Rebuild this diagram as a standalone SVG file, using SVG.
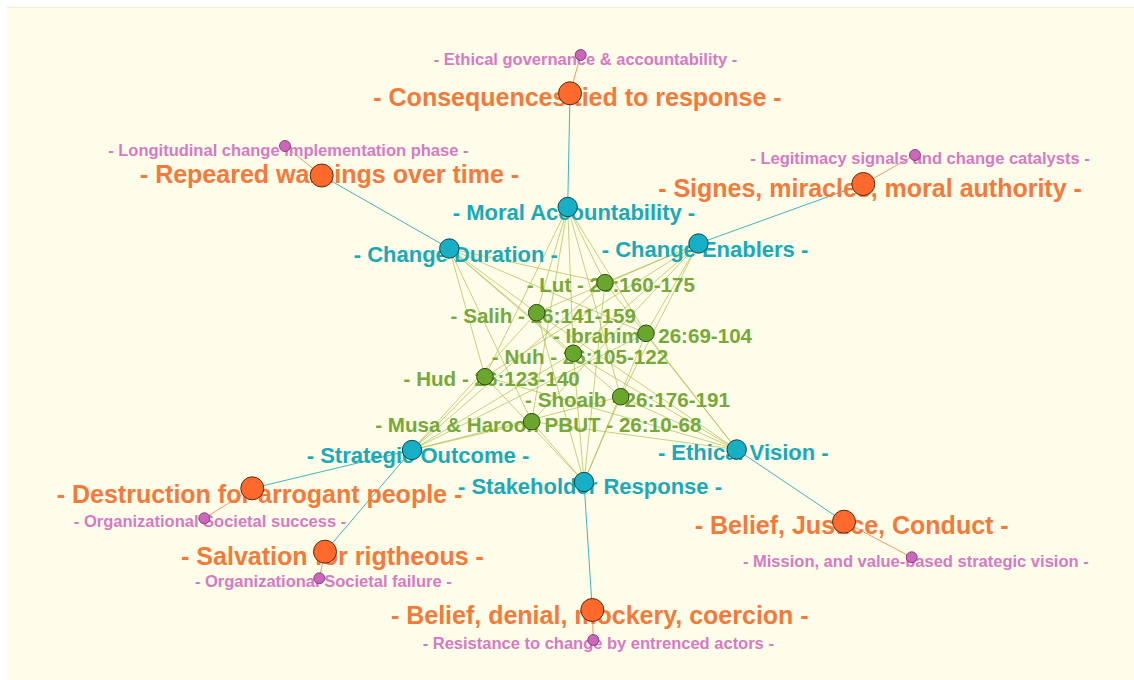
<svg xmlns="http://www.w3.org/2000/svg" width="1134" height="680" viewBox="0 0 1134 680">
<style>
text{font-family:"Liberation Sans",Arial,sans-serif;font-weight:bold;text-anchor:middle}
.tp{font-size:16.5px;fill:#d67ac6}
.to{font-size:25px;fill:#f47a3b}
.tc{font-size:22px;fill:#1ba9b8}
.tg{font-size:20.6px;fill:#77a83a}
.np{fill:#cc66bb;stroke:#6a3060;stroke-width:0.8}
.no{fill:#ff6a2c;stroke:#5a2a10;stroke-width:1}
.nc{fill:#16afc6;stroke:#0d4650;stroke-width:1}
.ng{fill:#6aa52e;stroke:#2d4a12;stroke-width:1}
.eg{stroke:#a9bb4c;stroke-width:0.9;stroke-opacity:0.75;fill:none}
.ec{stroke:#45b2bf;stroke-width:1;fill:none}
.eo{stroke:#f2986a;stroke-width:1;fill:none}
</style>
<rect x="0" y="0" width="1134" height="680" fill="#ffffff"/>
<rect x="7" y="7" width="1127" height="673" fill="#fefde9"/>
<line x1="7" y1="7.5" x2="1134" y2="7.5" stroke="#f3ead8" stroke-width="1"/>
<g id="connectors">
<g class="eg">
<line x1="605" y1="282.7" x2="567.7" y2="207"/><line x1="605" y1="282.7" x2="449.3" y2="248.5"/><line x1="605" y1="282.7" x2="698.5" y2="243.5"/><line x1="605" y1="282.7" x2="412" y2="450"/><line x1="605" y1="282.7" x2="736.7" y2="449.5"/><line x1="605" y1="282.7" x2="584" y2="482"/>
<line x1="536.7" y1="312.7" x2="567.7" y2="207"/><line x1="536.7" y1="312.7" x2="449.3" y2="248.5"/><line x1="536.7" y1="312.7" x2="698.5" y2="243.5"/><line x1="536.7" y1="312.7" x2="412" y2="450"/><line x1="536.7" y1="312.7" x2="736.7" y2="449.5"/><line x1="536.7" y1="312.7" x2="584" y2="482"/>
<line x1="646" y1="333.3" x2="567.7" y2="207"/><line x1="646" y1="333.3" x2="449.3" y2="248.5"/><line x1="646" y1="333.3" x2="698.5" y2="243.5"/><line x1="646" y1="333.3" x2="412" y2="450"/><line x1="646" y1="333.3" x2="736.7" y2="449.5"/><line x1="646" y1="333.3" x2="584" y2="482"/>
<line x1="573.3" y1="353.3" x2="567.7" y2="207"/><line x1="573.3" y1="353.3" x2="449.3" y2="248.5"/><line x1="573.3" y1="353.3" x2="698.5" y2="243.5"/><line x1="573.3" y1="353.3" x2="412" y2="450"/><line x1="573.3" y1="353.3" x2="736.7" y2="449.5"/><line x1="573.3" y1="353.3" x2="584" y2="482"/>
<line x1="485" y1="376.7" x2="567.7" y2="207"/><line x1="485" y1="376.7" x2="449.3" y2="248.5"/><line x1="485" y1="376.7" x2="698.5" y2="243.5"/><line x1="485" y1="376.7" x2="412" y2="450"/><line x1="485" y1="376.7" x2="736.7" y2="449.5"/><line x1="485" y1="376.7" x2="584" y2="482"/>
<line x1="620.7" y1="396.7" x2="567.7" y2="207"/><line x1="620.7" y1="396.7" x2="449.3" y2="248.5"/><line x1="620.7" y1="396.7" x2="698.5" y2="243.5"/><line x1="620.7" y1="396.7" x2="412" y2="450"/><line x1="620.7" y1="396.7" x2="736.7" y2="449.5"/><line x1="620.7" y1="396.7" x2="584" y2="482"/>
<line x1="531.7" y1="421.7" x2="567.7" y2="207"/><line x1="531.7" y1="421.7" x2="449.3" y2="248.5"/><line x1="531.7" y1="421.7" x2="698.5" y2="243.5"/><line x1="531.7" y1="421.7" x2="412" y2="450"/><line x1="531.7" y1="421.7" x2="736.7" y2="449.5"/><line x1="531.7" y1="421.7" x2="584" y2="482"/>
</g>
<g class="ec">
<line x1="567.7" y1="207" x2="570" y2="93.3"/>
<line x1="449.3" y1="248.5" x2="321.7" y2="175.5"/>
<line x1="698.5" y1="243.5" x2="863.3" y2="184"/>
<line x1="412" y1="450" x2="252.3" y2="488.3"/>
<line x1="412" y1="450" x2="325" y2="551.7"/>
<line x1="736.7" y1="449.5" x2="844" y2="521.7"/>
<line x1="584" y1="482" x2="592.3" y2="610"/>
</g>
<g class="eo">
<line x1="570" y1="93.3" x2="580.7" y2="55"/>
<line x1="321.7" y1="175.5" x2="285" y2="146"/>
<line x1="863.3" y1="184" x2="915" y2="155"/>
<line x1="252.3" y1="488.3" x2="204.3" y2="518.3"/>
<line x1="325" y1="551.7" x2="319.3" y2="578.3"/>
<line x1="844" y1="521.7" x2="911.7" y2="557.3"/>
<line x1="592.3" y1="610" x2="593.3" y2="640"/>
</g>
</g>
<g id="node-ethical-governance"><text class="tp" x="585.5" y="65">- Ethical governance &amp; accountability -</text><circle class="np" cx="580.7" cy="55" r="5.5"/></g>
<g id="node-longitudinal"><text class="tp" x="288.3" y="156">- Longitudinal change implementation phase -</text><circle class="np" cx="285" cy="146" r="5.5"/></g>
<g id="node-legitimacy"><text class="tp" x="920" y="164">- Legitimacy signals and change catalysts -</text><circle class="np" cx="915" cy="155" r="5.5"/></g>
<g id="node-org-success"><text class="tp" x="210" y="527.3">- Organizational Societal success -</text><circle class="np" cx="204.3" cy="518.3" r="5.5"/></g>
<g id="node-org-failure"><text class="tp" x="323.3" y="586.5">- Organizational Societal failure -</text><circle class="np" cx="319.3" cy="578.3" r="5.5"/></g>
<g id="node-mission"><text class="tp" x="915.8" y="566.5">- Mission, and value-based strategic vision -</text><circle class="np" cx="911.7" cy="557.3" r="5.5"/></g>
<g id="node-resistance"><text class="tp" x="598.3" y="649">- Resistance to change by entrenced actors -</text><circle class="np" cx="593.3" cy="640" r="5.5"/></g>
<g id="node-consequences"><text class="to" x="577.5" y="106">- Consequences tied to response -</text><circle class="no" cx="570" cy="93.3" r="11.5"/></g>
<g id="node-repeared"><text class="to" x="329.5" y="183">- Repeared warnings over time -</text><circle class="no" cx="321.7" cy="175.5" r="11.5"/></g>
<g id="node-signes"><text class="to" x="870" y="196.5">- Signes, miracles, moral authority -</text><circle class="no" cx="863.3" cy="184" r="11.5"/></g>
<g id="node-destruction"><text class="to" x="259.5" y="502.5">- Destruction for arrogant people -</text><circle class="no" cx="252.3" cy="488.3" r="11.5"/></g>
<g id="node-salvation"><text class="to" x="332.5" y="565">- Salvation for rigtheous -</text><circle class="no" cx="325" cy="551.7" r="11.5"/></g>
<g id="node-belief-justice"><text class="to" x="851.7" y="534">- Belief, Justice, Conduct -</text><circle class="no" cx="844" cy="521.7" r="11.5"/></g>
<g id="node-belief-denial"><text class="to" x="599.8" y="624">- Belief, denial, mockery, coercion -</text><circle class="no" cx="592.3" cy="610" r="11.5"/></g>
<g id="node-moral"><text class="tc" x="574" y="220">- Moral Accountability -</text><circle class="nc" cx="567.7" cy="207" r="9.7"/></g>
<g id="node-change-duration"><text class="tc" x="455.8" y="261.5">- Change Duration -</text><circle class="nc" cx="449.3" cy="248.5" r="9.7"/></g>
<g id="node-change-enablers"><text class="tc" x="705" y="256.5">- Change Enablers -</text><circle class="nc" cx="698.5" cy="243.5" r="9.7"/></g>
<g id="node-strategic"><text class="tc" x="418" y="462.5">- Strategic Outcome -</text><circle class="nc" cx="412" cy="450" r="9.7"/></g>
<g id="node-ethical-vision"><text class="tc" x="743.3" y="459.5">- Ethical Vision -</text><circle class="nc" cx="736.7" cy="449.5" r="9.7"/></g>
<g id="node-stakeholder"><text class="tc" x="590" y="494">- Stakeholder Response -</text><circle class="nc" cx="584" cy="482" r="9.7"/></g>
<g id="node-lut"><text class="tg" x="610.8" y="291.5">- Lut - 26:160-175</text><circle class="ng" cx="605" cy="282.7" r="8.3"/></g>
<g id="node-salih"><text class="tg" x="543.3" y="322.5">- Salih - 26:141-159</text><circle class="ng" cx="536.7" cy="312.7" r="8.3"/></g>
<g id="node-ibrahim"><text class="tg" x="652.5" y="342.5">- Ibrahim - 26:69-104</text><circle class="ng" cx="646" cy="333.3" r="8.3"/></g>
<g id="node-nuh"><text class="tg" x="580" y="363.5">- Nuh - 26:105-122</text><circle class="ng" cx="573.3" cy="353.3" r="8.3"/></g>
<g id="node-hud"><text class="tg" x="491.7" y="386">- Hud - 26:123-140</text><circle class="ng" cx="485" cy="376.7" r="8.3"/></g>
<g id="node-shoaib"><text class="tg" x="627.5" y="406.5">- Shoaib - 26:176-191</text><circle class="ng" cx="620.7" cy="396.7" r="8.3"/></g>
<g id="node-musa"><text class="tg" x="538.3" y="431.5">- Musa &amp; Haroon PBUT - 26:10-68</text><circle class="ng" cx="531.7" cy="421.7" r="8.3"/></g>
</svg>
